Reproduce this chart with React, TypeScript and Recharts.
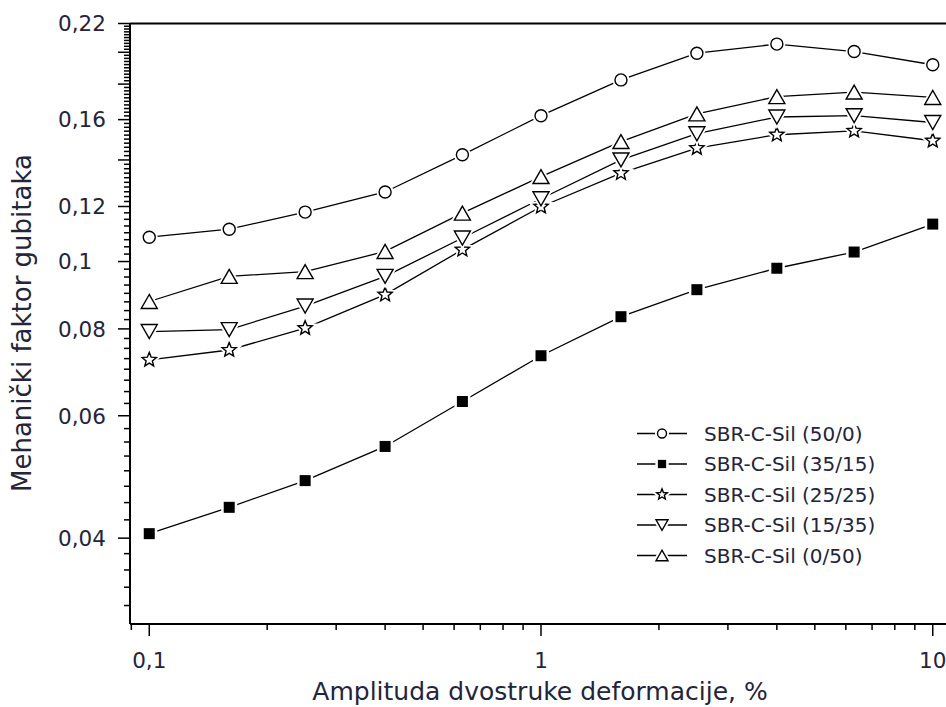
import React from 'react';
import { LineChart, Line, XAxis, YAxis, ReferenceLine } from 'recharts';

// amplitude of double strain, %
const strain = [0.1, 0.16, 0.25, 0.4, 0.63, 1, 1.6, 2.5, 4, 6.3, 10];

// loss factor per compound (carbon black / silica)
const sil50_0 = [0.1084, 0.1113, 0.1178, 0.1259, 0.1424, 0.1621, 0.1825, 0.1994, 0.2055, 0.2005, 0.1919];
const sil35_15 = [0.0406, 0.0443, 0.0484, 0.0542, 0.0629, 0.0732, 0.0833, 0.0911, 0.0978, 0.1032, 0.1132];
const sil25_25 = [0.0722, 0.0746, 0.0802, 0.0896, 0.104, 0.1199, 0.134, 0.1456, 0.1522, 0.1542, 0.1492];
const sil15_35 = [0.0793, 0.0798, 0.0863, 0.0952, 0.1081, 0.1231, 0.14, 0.1527, 0.1614, 0.1621, 0.1585];
const sil0_50 = [0.0876, 0.0952, 0.0967, 0.1034, 0.1174, 0.1325, 0.1488, 0.1631, 0.1727, 0.1753, 0.1722];

const seriesNames = [
  'SBR-C-Sil (50/0)',
  'SBR-C-Sil (35/15)',
  'SBR-C-Sil (25/25)',
  'SBR-C-Sil (15/35)',
  'SBR-C-Sil (0/50)',
];

// axis ticks
const xLabelTicks = [0.1, 1, 10];
const xTickLabels = ['0,1', '1', '10'];
const xMinorTicks = [0.09, 0.2, 0.3, 0.4, 0.5, 0.6, 0.7, 0.8, 0.9, 2, 3, 4, 5, 6, 7, 8, 9];

const yLabelTicks = [0.04, 0.06, 0.08, 0.1, 0.12, 0.16, 0.22];
const yTickLabels = ['0,04', '0,06', '0,08', '0,1', '0,12', '0,16', '0,22'];
const yPlainMajorTicks = [0.14, 0.18, 0.2];

const steps = (from: number, to: number, step: number) => {
  const out: number[] = [];
  for (let v = from; v <= to + 1e-9; v += step) out.push(Math.round(v * 10000) / 10000);
  return out;
};
const isIn = (arr: number[], v: number) => arr.some((t) => Math.abs(t - v) < 1e-6);

const yMinorTicks = [
  ...steps(0.032, 0.038, 0.002),
  ...steps(0.0425, 0.1175, 0.0025),
  ...steps(0.122, 0.218, 0.002),
].filter((v) => !isIn(yLabelTicks, v) && !isIn(yPlainMajorTicks, v));

const yTicks = [...yMinorTicks, ...yPlainMajorTicks, ...yLabelTicks].sort((a, b) => a - b);
const xTicks = [...xMinorTicks, ...xLabelTicks].sort((a, b) => a - b);

const data = strain.map((x, i) => ({
  x,
  s1: sil50_0[i],
  s2: sil35_15[i],
  s3: sil25_25[i],
  s4: sil15_35[i],
  s5: sil0_50[i],
}));

const FONT = '"DejaVu Sans", sans-serif';
const TEXT_COLOR = '#24243a';

type Shape = 'circle' | 'square' | 'star' | 'down' | 'up';

const starPoints = (cx: number, cy: number, ro: number, ri: number) => {
  const pts: string[] = [];
  for (let k = 0; k < 10; k++) {
    const r = k % 2 === 0 ? ro : ri;
    const a = -Math.PI / 2 + (k * Math.PI) / 5;
    pts.push(`${cx + r * Math.cos(a)},${cy + r * Math.sin(a)}`);
  }
  return pts.join(' ');
};

const shapeEl = (shape: Shape, cx: number, cy: number, s: number, props: any) => {
  switch (shape) {
    case 'circle':
      return <circle cx={cx} cy={cy} r={6 * s} {...props} />;
    case 'square':
      return <rect x={cx - 5.5 * s} y={cy - 5.5 * s} width={11 * s} height={11 * s} {...props} />;
    case 'star':
      return <polygon points={starPoints(cx, cy, 7.5 * s, 3.3 * s)} {...props} />;
    case 'down':
      return (
        <polygon
          points={`${cx - 8 * s},${cy - 7 * s} ${cx + 8 * s},${cy - 7 * s} ${cx},${cy + 7 * s}`}
          {...props}
        />
      );
    default:
      return (
        <polygon
          points={`${cx},${cy - 7 * s} ${cx - 8 * s},${cy + 7 * s} ${cx + 8 * s},${cy + 7 * s}`}
          {...props}
        />
      );
  }
};

const Marker = ({ cx, cy, shape, s = 1 }: { cx: number; cy: number; shape: Shape; s?: number }) => {
  const filled = shape === 'square';
  return (
    <g>
      {shapeEl(shape, cx, cy, s, { fill: '#fff', stroke: '#fff', strokeWidth: 5 })}
      {shapeEl(shape, cx, cy, s, {
        fill: filled ? '#000' : '#fff',
        stroke: '#000',
        strokeWidth: filled ? 0 : 1.4,
        strokeLinejoin: 'miter',
      })}
    </g>
  );
};

const dotFor = (shape: Shape) => (p: any) =>
  p.cx == null || p.cy == null ? (
    <g key={`e${p.index}`} />
  ) : (
    <Marker key={`${shape}${p.index}`} cx={p.cx} cy={p.cy} shape={shape} />
  );

const YTick = (props: any) => {
  const { x, y, payload } = props;
  const v = payload.value;
  const li = yLabelTicks.findIndex((t) => Math.abs(t - v) < 1e-6);
  const major = li >= 0 || isIn(yPlainMajorTicks, v);
  const len = major ? 12 : 6;
  return (
    <g>
      <line x1={x - len} x2={x} y1={y} y2={y} stroke="#000" strokeWidth={1.5} />
      {li >= 0 && (
        <text x={58} y={y + 7.8} fill={TEXT_COLOR} fontFamily={FONT} fontSize={21.5} textAnchor="start">
          {yTickLabels[li]}
        </text>
      )}
    </g>
  );
};

const XTick = (props: any) => {
  const { x, y, payload } = props;
  const v = payload.value;
  const li = xLabelTicks.findIndex((t) => Math.abs(t - v) < 1e-6);
  const len = li >= 0 ? 12 : 6;
  return (
    <g>
      <line x1={x} x2={x} y1={y} y2={y + len} stroke="#000" strokeWidth={1.5} />
      {li >= 0 && (
        <text x={x} y={y + 44} fill={TEXT_COLOR} fontFamily={FONT} fontSize={21.5} textAnchor="middle">
          {xTickLabels[li]}
        </text>
      )}
    </g>
  );
};

const shapes: Shape[] = ['circle', 'square', 'star', 'down', 'up'];
const keys = ['s1', 's2', 's3', 's4', 's5'];
const legendRows = [433.5, 464, 494.5, 525, 555.5];

export default function App() {
  return (
    <div style={{ position: 'absolute', left: 0, top: 0, width: 946, height: 707, background: '#fff', overflow: 'hidden' }}>
      <LineChart width={946} height={707} data={data} margin={{ top: 23.5, right: 0, left: 0, bottom: 0 }}>
        <XAxis
          dataKey="x"
          type="number"
          scale="log"
          domain={[0.0893, 10.81]}
          allowDataOverflow
          ticks={xTicks}
          interval={0}
          tickSize={0}
          tickMargin={0}
          tickLine={false}
          tick={(p: any) => <XTick {...p} />}
          axisLine={{ stroke: '#000', strokeWidth: 2 }}
          height={83}
        />
        <YAxis
          type="number"
          scale="log"
          domain={[0.0301, 0.22]}
          allowDataOverflow
          ticks={yTicks}
          interval={0}
          tickSize={0}
          tickMargin={0}
          tickLine={false}
          tick={(p: any) => <YTick {...p} />}
          axisLine={{ stroke: '#000', strokeWidth: 2 }}
          width={130}
        />
        <ReferenceLine y={0.22} stroke="#000" strokeWidth={2} />
        {keys.map((k, i) => (
          <Line
            key={k}
            dataKey={k}
            type="linear"
            stroke="#000"
            strokeWidth={1.3}
            dot={dotFor(shapes[i])}
            activeDot={false}
            isAnimationActive={false}
          />
        ))}
      </LineChart>
      <svg width={946} height={707} style={{ position: 'absolute', left: 0, top: 0, pointerEvents: 'none' }}>
        <text
          transform="translate(31 323) rotate(-90)"
          textAnchor="middle"
          fontFamily={FONT}
          fontSize={26}
          fill={TEXT_COLOR}
        >
          Mehanički faktor gubitaka
        </text>
        <text x={540} y={700} textAnchor="middle" fontFamily={FONT} fontSize={25} fill={TEXT_COLOR}>
          Amplituda dvostruke deformacije, %
        </text>
        {seriesNames.map((name, i) => {
          const cy = legendRows[i];
          return (
            <g key={name}>
              <line x1={637} x2={687} y1={cy} y2={cy} stroke="#000" strokeWidth={1.3} />
              <Marker cx={662} cy={cy} shape={shapes[i]} s={0.75} />
              <text x={704} y={cy + 7.3} fontFamily={FONT} fontSize={20} fill={TEXT_COLOR}>
                {name}
              </text>
            </g>
          );
        })}
      </svg>
    </div>
  );
}
